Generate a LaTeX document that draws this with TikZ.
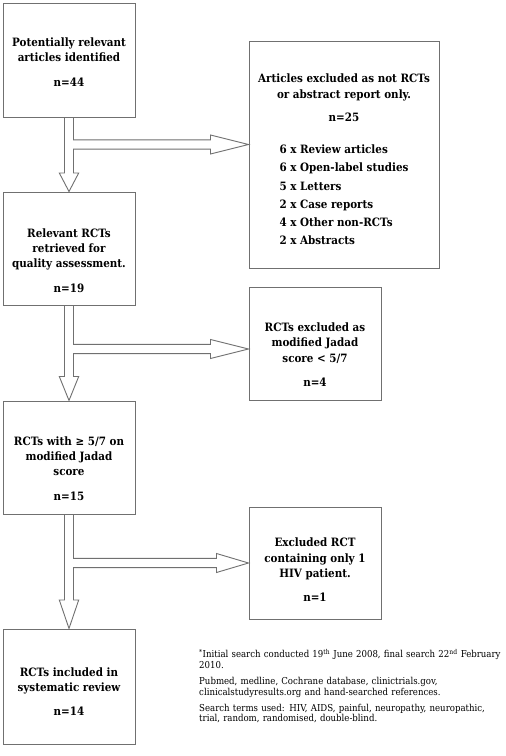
\documentclass[tikz,border=0pt]{standalone}
\usepackage{fontspec}
\setmainfont{DejaVu Serif Condensed}
\usetikzlibrary{calc}
\definecolor{boxgray}{HTML}{707070}
\tikzset{
  box/.style={draw=boxgray, line width=1pt, minimum width=132pt, inner sep=0pt},
  boxtext/.style={inner sep=0pt, align=center, font=\bfseries\fontsize{11.5}{15.3}\selectfont},
  flow/.style={draw=boxgray, line width=0.9pt, line join=miter},
  note/.style={inner sep=0pt, align=left, text width=312pt, font=\fontsize{9.55}{10.8}\selectfont},
}
% #1 source box, #2 side target, #3 lower target, #4 branch coordinate,
% #5 side head length, #6 lower head length
\newcommand\flowarrow[6]{%
  \draw[flow] let \p1=(#1.south), \p2=(#3.north), \p3=(#2.west), \p4=(#4) in
    (\x1-4.5pt,\y1) -- (\x1-4.5pt,\y2+#6) -- (\x1-9.7pt,\y2+#6) -- (\x2,\y2)
    -- (\x1+9.7pt,\y2+#6) -- (\x1+4.5pt,\y2+#6) -- (\x1+4.5pt,\y4-4.6pt)
    -- (\x3-#5,\y4-4.6pt) -- (\x3-#5,\y4-9.5pt) -- (\x3,\y4) -- (\x3-#5,\y4+9.5pt)
    -- (\x3-#5,\y4+4.6pt) -- (\x1+4.5pt,\y4+4.6pt) -- (\x1+4.5pt,\y1);
}
\begin{document}
\begin{tikzpicture}[x=1pt,y=-1pt]
\useasboundingbox (0,0) rectangle (506,756);
\fill[white] (0,0) rectangle (506,756);

% boxes
\node[box, minimum height=114pt] (b1) at (69,60) {};
\node[box, minimum height=113pt] (b2) at (69,248.5) {};
\node[box, minimum height=113pt] (b5) at (69,457.5) {};
\node[box, minimum height=115pt] (b7) at (69,686.5) {};
\node[box, minimum width=190pt, minimum height=227pt] (b3) at (344,154.5) {};
\node[box, minimum height=113pt] (b4) at (315,343.5) {};
\node[box, minimum height=112pt] (b6) at (315,563) {};

% texts
\node[boxtext] (b1t) at ([yshift=-2pt]b1.center)
  {Potentially relevant\\articles identified\\[9pt]n=44};
\node[boxtext] (b2t) at ([yshift=-12pt]b2.center)
  {Relevant RCTs\\retrieved for\\quality assessment.\\[9pt]n=19};
\node[boxtext] (b5t) at ([yshift=-11pt]b5.center)
  {RCTs with ≥ 5/7 on\\modified Jadad\\score\\[9pt]n=15};
\node[boxtext] (b7t) at ([yshift=-5pt]b7.center)
  {RCTs included in\\systematic review\\[9pt]n=14};
\node[boxtext, anchor=north] (b3t) at (344,74)
  {Articles excluded as not RCTs\\or abstract report only.\\[8pt]n=25\\[20pt]
   \begin{tabular}{@{}l@{}}
   6 x Review articles\\[3pt]
   6 x Open-label studies\\[3pt]
   5 x Letters\\[3pt]
   2 x Case reports\\[3pt]
   4 x Other non-RCTs\\[3pt]
   2 x Abstracts
   \end{tabular}};
\node[boxtext] (b4t) at ([yshift=-11pt]b4.center)
  {RCTs excluded as\\modified Jadad\\score < 5/7\\[9pt]n=4};
\node[boxtext] (b6t) at ([yshift=-7pt]b6.center)
  {Excluded RCT\\containing only 1\\HIV patient.\\[9pt]n=1};

% connectors
\coordinate (br1) at (0,144.5);
\coordinate (br2) at (0,349);
\coordinate (br3) at (0,563);
\flowarrow{b1}{b3}{b2}{br1}{38pt}{18.5pt}
\flowarrow{b2}{b4}{b5}{br2}{38pt}{24pt}
\flowarrow{b5}{b6}{b7}{br3}{32pt}{28.5pt}

% footnote
\node[note, anchor=north west] (fn) at (199,649)
  {\textsuperscript{*}Initial search conducted 19\textsuperscript{th} June 2008, final search 22\textsuperscript{nd} February\\
   2010.\\[5pt]
   Pubmed, medline, Cochrane database, clinictrials.gov,\\
   clinicalstudyresults.org and hand-searched references.\\[5pt]
   Search terms used: HIV, AIDS, painful, neuropathy, neuropathic,\\
   trial, random, randomised, double-blind.};
\end{tikzpicture}
\end{document}
